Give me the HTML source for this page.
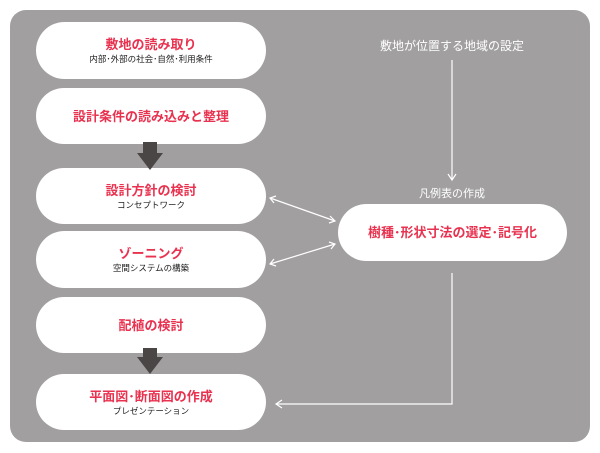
<!DOCTYPE html>
<html><head><meta charset="utf-8"><style>
body{margin:0;width:600px;height:453px;background:#fff;position:relative;overflow:hidden;font-family:"Liberation Sans","Noto Sans CJK JP",sans-serif}
.bg{position:absolute;left:10px;top:10px;width:580px;height:432px;background:#a19f9f;border-radius:16px}
.p{position:absolute;background:#fff;border-radius:30px;text-align:center;display:flex;flex-direction:column;justify-content:center;align-items:center}
.t{color:#e8324f;font-weight:bold;font-size:13px;line-height:17px}
.s{color:#222;font-size:8.5px;line-height:12px}
svg{position:absolute;left:0;top:0}
</style></head><body>
<div class="bg"></div>
<div class="p" style="left:36px;top:22px;width:230px;height:57px"><div class="t">敷地の読み取り</div><div class="s">内部･外部の社会･自然･利用条件</div></div>
<div class="p" style="left:36px;top:88px;width:230px;height:56px"><div class="t">設計条件の読み込みと整理</div></div>
<div class="p" style="left:36px;top:168px;width:230px;height:56px"><div class="t">設計方針の検討</div><div class="s">コンセプトワーク</div></div>
<div class="p" style="left:36px;top:231px;width:230px;height:57px"><div class="t">ゾーニング</div><div class="s">空間システムの構築</div></div>
<div class="p" style="left:36px;top:297px;width:230px;height:56px"><div class="t">配植の検討</div></div>
<div class="p" style="left:36px;top:374px;width:230px;height:56px"><div class="t">平面図･断面図の作成</div><div class="s">プレゼンテーション</div></div>
<div class="p" style="left:338px;top:204px;width:229px;height:57px"><div class="t">樹種･形状寸法の選定･記号化</div></div>
<div style="position:absolute;left:352px;top:37px;width:200px;text-align:center;color:#fff;font-size:12px">敷地が位置する地域の設定</div>
<div style="position:absolute;left:402px;top:185px;width:100px;text-align:center;color:#fff;font-size:11px">凡例表の作成</div>
<svg width="600" height="453">
<g fill="#4a4646"><rect x="143" y="142" width="14" height="12"/><polygon points="137,153 163,153 150,170"/>
<rect x="143" y="348" width="14" height="10"/><polygon points="137,357 163,357 150,374"/></g>
<g stroke="#fff" stroke-width="1.2" fill="none">
<line x1="452" y1="60" x2="452" y2="180"/><polyline points="448,174 452,180 456,174"/>
<line x1="270" y1="198" x2="335" y2="221"/><polyline points="276,196 270,198 274,203"/><polyline points="329,223 335,221 330,216"/>
<line x1="335" y1="244" x2="270" y2="264"/><polyline points="329,242 335,244 331,249"/><polyline points="274,259 270,264 276,266"/>
<polyline points="452,273 452,404 276,404"/><polyline points="282,400 276,404 282,408"/>
</g></svg>
</body></html>
